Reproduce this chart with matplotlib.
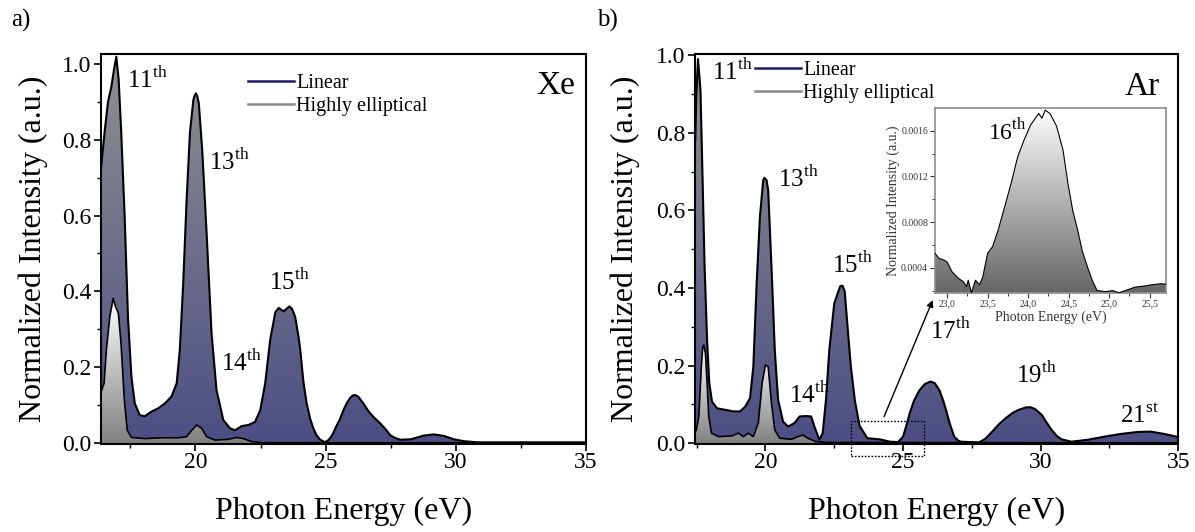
import numpy as np
import matplotlib
matplotlib.use("Agg")
import matplotlib.pyplot as plt
from matplotlib.colors import LinearSegmentedColormap
from matplotlib.patches import Polygon, Rectangle
from matplotlib.lines import Line2D
from matplotlib.ticker import MultipleLocator, FuncFormatter

plt.rcParams['font.family'] = ['Liberation Serif', 'DejaVu Serif']
plt.rcParams['mathtext.fontset'] = 'custom'
plt.rcParams['mathtext.rm'] = 'Liberation Serif'

# ---- data (photon energy in eV, normalized intensity) ----
# Xe, linear polarisation
xe_lin_x = [16.38, 16.51, 16.64, 16.77, 16.87, 16.96, 17.05, 17.15, 17.28, 17.41, 17.54, 17.67,
            17.86, 18.05, 18.31, 18.57, 18.83, 19.08, 19.28, 19.40, 19.53, 19.66, 19.79, 19.92,
            19.97, 20.02, 20.07, 20.13, 20.26, 20.43, 20.62, 20.81, 21.07, 21.33, 21.52, 21.78,
            22.04, 22.29, 22.49, 22.68, 22.87, 23.07, 23.20, 23.39, 23.60, 23.70, 23.83, 23.96,
            24.02, 24.15, 24.27, 24.40, 24.53, 24.65, 24.78, 24.95, 25.06, 25.20, 25.29, 25.40,
            25.55, 25.68, 25.81, 25.95, 26.05, 26.13, 26.25, 26.45, 26.60, 26.71, 26.90, 27.10,
            27.30, 27.48, 27.66, 27.86, 28.27, 28.78, 29.16, 29.55, 29.93, 30.32, 30.84, 35.0]
xe_lin_y = [0.73, 0.82, 0.90, 0.94, 0.985, 1.02, 0.96, 0.82, 0.60, 0.33, 0.175, 0.104,
            0.073, 0.07, 0.082, 0.091, 0.104, 0.122, 0.157, 0.245, 0.42, 0.64, 0.82, 0.905,
            0.918, 0.923, 0.915, 0.897, 0.774, 0.553, 0.289, 0.139, 0.06, 0.038, 0.033, 0.044,
            0.047, 0.055, 0.086, 0.157, 0.271, 0.345, 0.356, 0.347, 0.36, 0.355, 0.333, 0.28,
            0.25, 0.16, 0.105, 0.065, 0.038, 0.02, 0.009, 0.002, 0.004, 0.014, 0.025, 0.042,
            0.062, 0.085, 0.104, 0.119, 0.125, 0.126, 0.122, 0.104, 0.088, 0.078, 0.064, 0.051,
            0.036, 0.02, 0.013, 0.008, 0.009, 0.019, 0.022, 0.018, 0.009, 0.004, 0.001, 0.001]
# Xe, highly elliptical
xe_ell_x = [16.38, 16.49, 16.58, 16.71, 16.84, 16.93, 17.04, 17.14, 17.27, 17.38, 17.54, 18.05,
            18.70, 19.34, 19.66, 19.86, 20.05, 20.24, 20.43, 20.75, 21.26, 21.58, 21.84, 22.16,
            22.55, 35.0]
xe_ell_y = [0.135, 0.157, 0.245, 0.333, 0.381, 0.36, 0.342, 0.263, 0.113, 0.033, 0.014, 0.011,
            0.013, 0.013, 0.016, 0.033, 0.047, 0.038, 0.016, 0.007, 0.009, 0.014, 0.011, 0.003,
            0.0, 0.0]
# Ar, linear polarisation
ar_lin_x = [17.45, 17.49, 17.55, 17.64, 17.72, 17.79, 17.88, 17.96, 18.06, 18.24, 18.54, 18.84,
            19.08, 19.26, 19.44, 19.56, 19.68, 19.80, 19.92, 19.96, 20.04, 20.10, 20.22, 20.34,
            20.46, 20.64, 20.82, 21.06, 21.24, 21.48, 21.66, 21.78, 21.96, 22.08, 22.20, 22.32,
            22.50, 22.62, 22.72, 22.80, 22.88, 22.95, 23.10, 23.25, 23.42, 23.70, 24.16, 24.52,
            24.82, 25.0, 25.12, 25.24, 25.40, 25.60, 25.80, 26.0, 26.15, 26.32, 26.45, 26.56,
            26.70, 26.86, 27.0, 27.10, 27.76, 28.0, 28.24, 28.50, 28.72, 29.0, 29.20, 29.45,
            29.62, 29.80, 30.04, 30.20, 30.40, 30.60, 30.76, 31.12, 31.72, 32.32, 32.92, 33.52,
            34.0, 34.48, 35.0]
ar_lin_y = [0.78, 0.90, 0.99, 0.91, 0.67, 0.455, 0.266, 0.155, 0.107, 0.09, 0.086, 0.082,
            0.082, 0.094, 0.116, 0.197, 0.41, 0.584, 0.678, 0.684, 0.678, 0.652, 0.455, 0.24,
            0.112, 0.056, 0.043, 0.052, 0.069, 0.070, 0.069, 0.043, 0.009, 0.026, 0.112, 0.24,
            0.36, 0.385, 0.405, 0.406, 0.392, 0.33, 0.20, 0.11, 0.045, 0.013, 0.010, 0.004,
            0.003, 0.017, 0.045, 0.077, 0.11, 0.137, 0.153, 0.159, 0.155, 0.137, 0.112, 0.086,
            0.05, 0.017, 0.007, 0.004, 0.002, 0.012, 0.03, 0.05, 0.064, 0.079, 0.086, 0.092,
            0.093, 0.088, 0.073, 0.055, 0.034, 0.018, 0.01, 0.004, 0.009, 0.017, 0.024, 0.029,
            0.030, 0.024, 0.016]
# Ar, highly elliptical
ar_ell_x = [17.45, 17.49, 17.58, 17.67, 17.72, 17.76, 17.82, 17.88, 17.94, 18.04, 18.30, 18.78,
            19.02, 19.20, 19.38, 19.56, 19.74, 19.88, 20.0, 20.10, 20.22, 20.34, 20.52, 20.94,
            21.18, 21.36, 21.54, 21.84, 22.26, 35.0]
ar_ell_y = [0.03, 0.034, 0.069, 0.197, 0.245, 0.253, 0.232, 0.155, 0.069, 0.026, 0.017, 0.019,
            0.026, 0.017, 0.026, 0.017, 0.052, 0.155, 0.202, 0.197, 0.103, 0.034, 0.013, 0.010,
            0.017, 0.021, 0.013, 0.004, 0.002, 0.001]
# Ar, 16th harmonic (inset)
ins_x = [22.85, 22.90, 22.96, 23.0, 23.06, 23.14, 23.20, 23.24, 23.26, 23.30, 23.35, 23.40,
         23.44, 23.50, 23.56, 23.63, 23.71, 23.79, 23.87, 23.95, 24.03, 24.09, 24.13, 24.17,
         24.21, 24.27, 24.35, 24.43, 24.49, 24.55, 24.61, 24.67, 24.73, 24.79, 24.85, 24.96,
         25.04, 25.12, 25.20, 25.32, 25.44, 25.52, 25.64, 25.70]
ins_y = [5.26, 4.82, 4.67, 4.50, 3.65, 3.07, 2.77, 2.34, 2.90, 1.81, 2.90, 2.50,
         3.20, 5.26, 5.84, 7.30, 9.34, 11.4, 13.7, 15.2, 16.5, 17.1, 17.5, 17.1,
         17.8, 17.5, 16.4, 14.3, 11.4, 9.0, 7.3, 5.4, 4.1, 2.9, 2.0, 1.9,
         2.0, 1.8, 2.0, 2.3, 2.4, 2.5, 2.6, 2.55]  # x 1e-4

xe_labels = [('11', 'th', 17.36, 0.937), ('13', 'th', 20.52, 0.721),
             ('15', 'th', 22.82, 0.404), ('14', 'th', 21.0, 0.19)]
ar_labels = [('11', 'th', 18.05, 0.935), ('13', 'th', 20.45, 0.66),
             ('15', 'th', 22.42, 0.44), ('14', 'th', 20.87, 0.103),
             ('17', 'th', 25.98, 0.27), ('19', 'th', 29.10, 0.155),
             ('21', 'st', 32.90, 0.052)]

LIN_LOW, LIN_HIGH = '#4c4e84', '#909090'
ELL_LOW, ELL_HIGH = '#808080', '#ffffff'


def gradient_fill(ax, x, y, c_low, c_high, y_low, y_high, z):
    x = np.asarray(x)
    y = np.asarray(y)
    verts = np.column_stack([np.r_[x[0], x, x[-1]], np.r_[y_low, y, y_low]])
    clip = Polygon(verts, closed=True, facecolor='none', edgecolor='none')
    ax.add_patch(clip)
    cmap = LinearSegmentedColormap.from_list('g', [c_low, c_high])
    im = ax.imshow(np.linspace(0, 1, 256)[:, None], cmap=cmap, origin='lower', aspect='auto',
                   extent=[x[0], x[-1], y_low, y_high], zorder=z, interpolation='bilinear')
    im.set_clip_path(clip)


def style_main(ax, xlim, ylim):
    ax.set_xlim(*xlim)
    ax.set_ylim(*ylim)
    ax.xaxis.set_major_locator(MultipleLocator(5))
    ax.xaxis.set_minor_locator(MultipleLocator(2.5))
    ax.yaxis.set_major_locator(MultipleLocator(0.2))
    ax.yaxis.set_minor_locator(MultipleLocator(0.1))
    ax.yaxis.set_major_formatter(FuncFormatter(lambda v, p: f'{v:.1f}'))
    ax.tick_params(which='major', direction='out', length=5, width=1.2, labelsize=17)
    ax.tick_params(axis='x', which='major', pad=1)
    ax.tick_params(axis='y', which='major', pad=2)
    ax.tick_params(which='minor', direction='out', length=3, width=1.0)
    for s in ax.spines.values():
        s.set_linewidth(1.5)
    ax.set_xlabel('Photon Energy (eV)', fontsize=23)
    ax.set_ylabel('Normalized Intensity (a.u.)', fontsize=23)


def draw_panel(ax, lx, ly, ex, ey, ylim):
    gradient_fill(ax, lx, ly, LIN_LOW, LIN_HIGH, ylim[0], max(ly), 1)
    ax.plot(lx, ly, color='k', lw=1.5, zorder=4)
    gradient_fill(ax, ex, ey, ELL_LOW, ELL_HIGH, ylim[0], max(ey), 2)
    ax.plot(ex, ey, color='k', lw=1.2, zorder=4)


def legend(ax, x0, y0):
    handles = [Line2D([], [], color='#1c1c6b', lw=1.8), Line2D([], [], color='#8a8a8a', lw=1.8)]
    ax.legend(handles, ['Linear', 'Highly elliptical'], loc='center left',
              bbox_to_anchor=(x0, y0), frameon=False, fontsize=14.5, borderpad=0,
              borderaxespad=0, handlelength=2.3, handletextpad=0.1, labelspacing=0.2)


fig = plt.figure(figsize=(11.95, 5.32), dpi=100)
ax1 = fig.add_axes([0.0849, 0.1654, 0.4054, 0.7331])
ax2 = fig.add_axes([0.5818, 0.1654, 0.4042, 0.7331])

ylim_a = (-0.0034, 1.027)
ylim_b = (-0.002, 1.003)
draw_panel(ax1, xe_lin_x, xe_lin_y, xe_ell_x, xe_ell_y, ylim_a)
draw_panel(ax2, ar_lin_x, ar_lin_y, ar_ell_x, ar_ell_y, ylim_b)
style_main(ax1, (16.39, 35.0), ylim_a)
style_main(ax2, (17.45, 35.0), ylim_b)
ax1.xaxis.set_label_coords(0.5, -0.135)
ax2.xaxis.set_label_coords(0.5, -0.135)
ax1.yaxis.set_label_coords(-0.11, 0.5)
ax2.yaxis.set_label_coords(-0.115, 0.5)

for ax, labels in ((ax1, xe_labels), (ax2, ar_labels)):
    for num, suf, x, y in labels:
        ax.text(x, y, num + r'$^{\rm ' + suf + '}$', fontsize=18, ha='left', va='baseline', zorder=6)

ax1.text(0.938, 0.918, 'Xe', transform=ax1.transAxes, fontsize=24, ha='center', va='center')
ax2.text(0.925, 0.916, 'Ar', transform=ax2.transAxes, fontsize=24, ha='center', va='center')
legend(ax1, 0.302, 0.894)
legend(ax2, 0.123, 0.929)

fig.text(0.017, 0.962, 'a)', fontsize=18, ha='center', va='center')
fig.text(0.508, 0.962, 'b)', fontsize=18, ha='center', va='center')

# zoom box and arrow to the inset
ax2.add_patch(Rectangle((23.11, -0.033), 2.64, 0.089, fill=False, ls=(0, (1.2, 1.2)),
                        lw=1.0, ec='k', clip_on=False, zorder=6))
ax2.annotate('', xy=(26.08, 0.369), xytext=(24.31, 0.0685),
             arrowprops=dict(arrowstyle='-|>', color='k', lw=1.0, mutation_scale=10,
                             shrinkA=0, shrinkB=0), zorder=6)

# inset
axi = fig.add_axes([0.7824, 0.4498, 0.1933, 0.3466])
iy = np.asarray(ins_y) * 1e-4
ylim_i = (0.000181, 0.001796)
gradient_fill(axi, ins_x, iy, '#666666', '#ffffff', ylim_i[0], ylim_i[1], 1)
axi.plot(ins_x, iy, color='k', lw=0.8, zorder=3)
axi.set_xlim(22.85, 25.70)
axi.set_ylim(*ylim_i)
axi.xaxis.set_major_locator(MultipleLocator(0.5))
axi.xaxis.set_minor_locator(MultipleLocator(0.25))
axi.yaxis.set_major_locator(MultipleLocator(0.0004))
axi.yaxis.set_minor_locator(MultipleLocator(0.0002))
axi.xaxis.set_major_formatter(FuncFormatter(lambda v, p: f'{v:.1f}'.replace('.', ',')))
axi.yaxis.set_major_formatter(FuncFormatter(lambda v, p: f'{v:.4f}'))
axi.tick_params(which='major', direction='out', length=3.5, width=0.8, labelsize=7,
                colors='#333333', pad=1.5)
axi.tick_params(which='minor', direction='out', length=2, width=0.7, colors='#333333')
for s in axi.spines.values():
    s.set_color('#8c8c8c')
    s.set_linewidth(1.2)
axi.set_xlabel('Photon Energy (eV)', fontsize=10, color='#333333', labelpad=1)
axi.set_ylabel('Normalized Intensity (a.u.)', fontsize=10, color='#333333', labelpad=1)
axi.text(23.5, 0.00152, r'16$^{\rm th}$', fontsize=17, ha='left', va='baseline')

fig.savefig('out.png', dpi=100)
